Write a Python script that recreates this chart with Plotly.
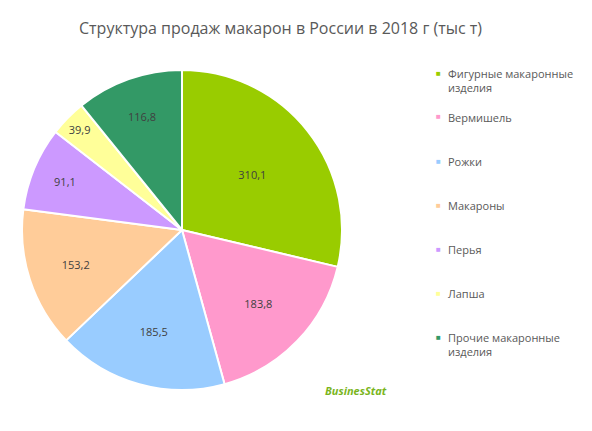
import plotly.graph_objects as go

labels = ["Фигурные макаронные<br>изделия", "Вермишель", "Рожки", "Макароны", "Перья", "Лапша", "Прочие макаронные<br>изделия"]
values = [310.1, 183.8, 185.5, 153.2, 91.1, 39.9, 116.8]
texts = ["310,1", "183,8", "185,5", "153,2", "91,1", "39,9", "116,8"]
colors = ["#99cc00", "#ff99cc", "#99ccff", "#ffcc99", "#cc99ff", "#ffff99", "#339966"]

W, H = 592, 431
fig = go.Figure(go.Pie(
    labels=labels, values=values, text=texts, textinfo="text",
    textposition="inside", insidetextorientation="horizontal",
    sort=False, direction="clockwise", rotation=0,
    marker=dict(colors=colors, line=dict(color="white", width=2)),
    textfont=dict(family="Open Sans", size=11, color="#404040"),
    domain=dict(x=[14/W, 334/W], y=[1-382/H, 1-62/H]),
    showlegend=False, hoverinfo="label+value",
))
ann = [dict(text="Структура продаж макарон в России в 2018 г (тыс т)", x=272/W, y=1-20/H,
            xref="paper", yref="paper", showarrow=False, xanchor="center", yanchor="middle",
            font=dict(family="Open Sans", size=16, color="#595959"))]
ys = [64, 108, 152, 196, 240, 284, 328]
for lab, c, y in zip(labels, colors, ys):
    ann.append(dict(text="■", x=430/W, y=1-y/H, xref="paper", yref="paper", showarrow=False,
                    xanchor="center", yanchor="middle", font=dict(size=8, color=c)))
    ann.append(dict(text=lab, x=438/W, y=1-(y-8)/H, xref="paper", yref="paper", showarrow=False,
                    xanchor="left", yanchor="top", align="left",
                    font=dict(family="Open Sans", size=11, color="#595959")))
ann.append(dict(text="<b><i>BusinesStat</i></b>", x=348/W, y=1-382/H, xref="paper", yref="paper",
                showarrow=False, xanchor="center", yanchor="middle",
                font=dict(family="Open Sans", size=11, color="#7ab51d")))
fig.update_layout(width=W, height=H, margin=dict(l=0, r=0, t=0, b=0),
                  paper_bgcolor="white", annotations=ann)
fig.write_html("out.html")
